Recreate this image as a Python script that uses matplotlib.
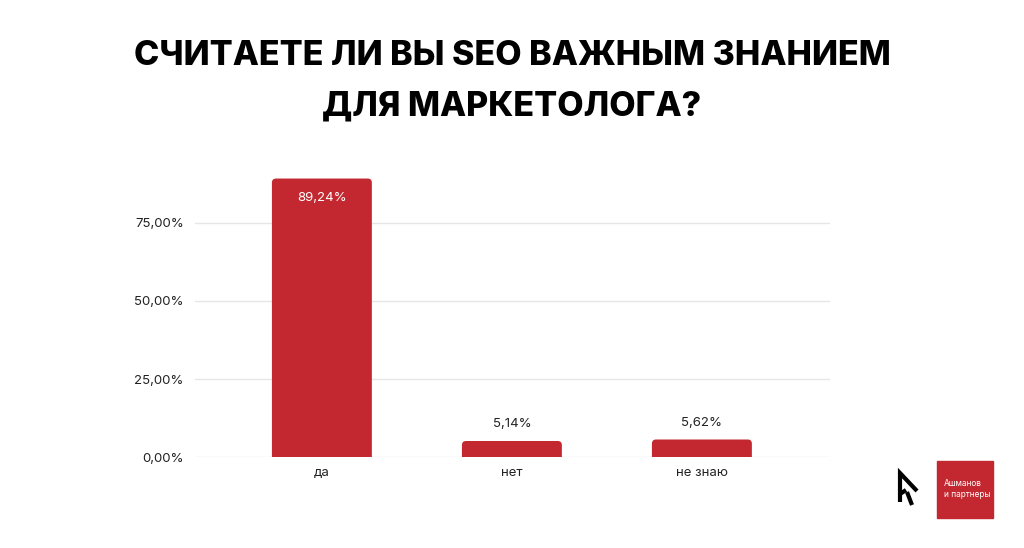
import matplotlib.pyplot as plt
from matplotlib.patches import Rectangle, FancyBboxPatch
from matplotlib.lines import Line2D

categories = ["да", "нет", "не знаю"]
values = [89.24, 5.14, 5.62]
value_labels = ["89,24%", "5,14%", "5,62%"]
yticks = [0, 25, 50, 75]
ytick_labels = ["0,00%", "25,00%", "50,00%", "75,00%"]

RED = "#c3272f"
plt.rcParams["font.family"] = ["Inter", "DejaVu Sans"]

fig = plt.figure(figsize=(10.24, 5.48), dpi=100)
ax = fig.add_axes([0.1904, 0.166, 0.6201, 0.541])

x = list(range(len(categories)))
bar_w = 0.526
# bars with slightly rounded tops (bottom part extends below 0 and is clipped)
for xi, v in zip(x, values):
    p = FancyBboxPatch((xi - bar_w / 2, -3), bar_w, v + 3,
                       boxstyle="round,pad=0,rounding_size=0.022",
                       mutation_aspect=60, color=RED, zorder=3, linewidth=0)
    ax.add_patch(p)

for i, (xi, v, lab) in enumerate(zip(x, values, value_labels)):
    if i == 0:
        ax.text(xi, v - 4.3, lab, ha="center", va="top", color="white", fontsize=9.5)
    else:
        ax.text(xi, v + 3.5, lab, ha="center", va="bottom", color="#222222", fontsize=9.5)

ax.set_xlim(-0.668, 2.674)
ax.set_ylim(0, 95)
ax.set_yticks(yticks)
ax.set_yticklabels(ytick_labels)
ax.set_xticks(x)
ax.set_xticklabels(categories)
ax.grid(axis="y", color="#e6e6e6", linewidth=1, zorder=0)
for s in ax.spines.values():
    s.set_visible(False)
ax.tick_params(axis="both", length=0, labelsize=9.5, colors="#222222")
ax.tick_params(axis="y", pad=8)
ax.tick_params(axis="x", pad=7)

fig.text(0.5, 0.898, "СЧИТАЕТЕ ЛИ ВЫ SEO ВАЖНЫМ ЗНАНИЕМ", ha="center", va="center",
         fontsize=24.5, fontweight="heavy", color="black")
fig.text(0.5, 0.805, "ДЛЯ МАРКЕТОЛОГА?", ha="center", va="center",
         fontsize=24.5, fontweight="heavy", color="black")

# logo block
fig.patches.append(Rectangle((937 / 1024, 1 - 518 / 548), 56 / 1024, 57 / 548,
                             transform=fig.transFigure, color=RED))
fig.text(944 / 1024, 1 - 489 / 548, "Ашманов\nи партнеры", ha="left", va="center",
         fontsize=6, color="white", linespacing=1.4)


def fig_xy(pts):
    return [p[0] / 1024 for p in pts], [1 - p[1] / 548 for p in pts]


for seg in ([(900, 502), (900, 473), (917, 491)], [(900, 494), (906, 490)], [(907, 492), (912, 505)]):
    xs, ys = fig_xy(seg)
    fig.lines.append(Line2D(xs, ys, transform=fig.transFigure, color="black",
                            linewidth=3, solid_joinstyle="miter", solid_capstyle="butt"))

fig.savefig("out.png", dpi=100, facecolor="white")
